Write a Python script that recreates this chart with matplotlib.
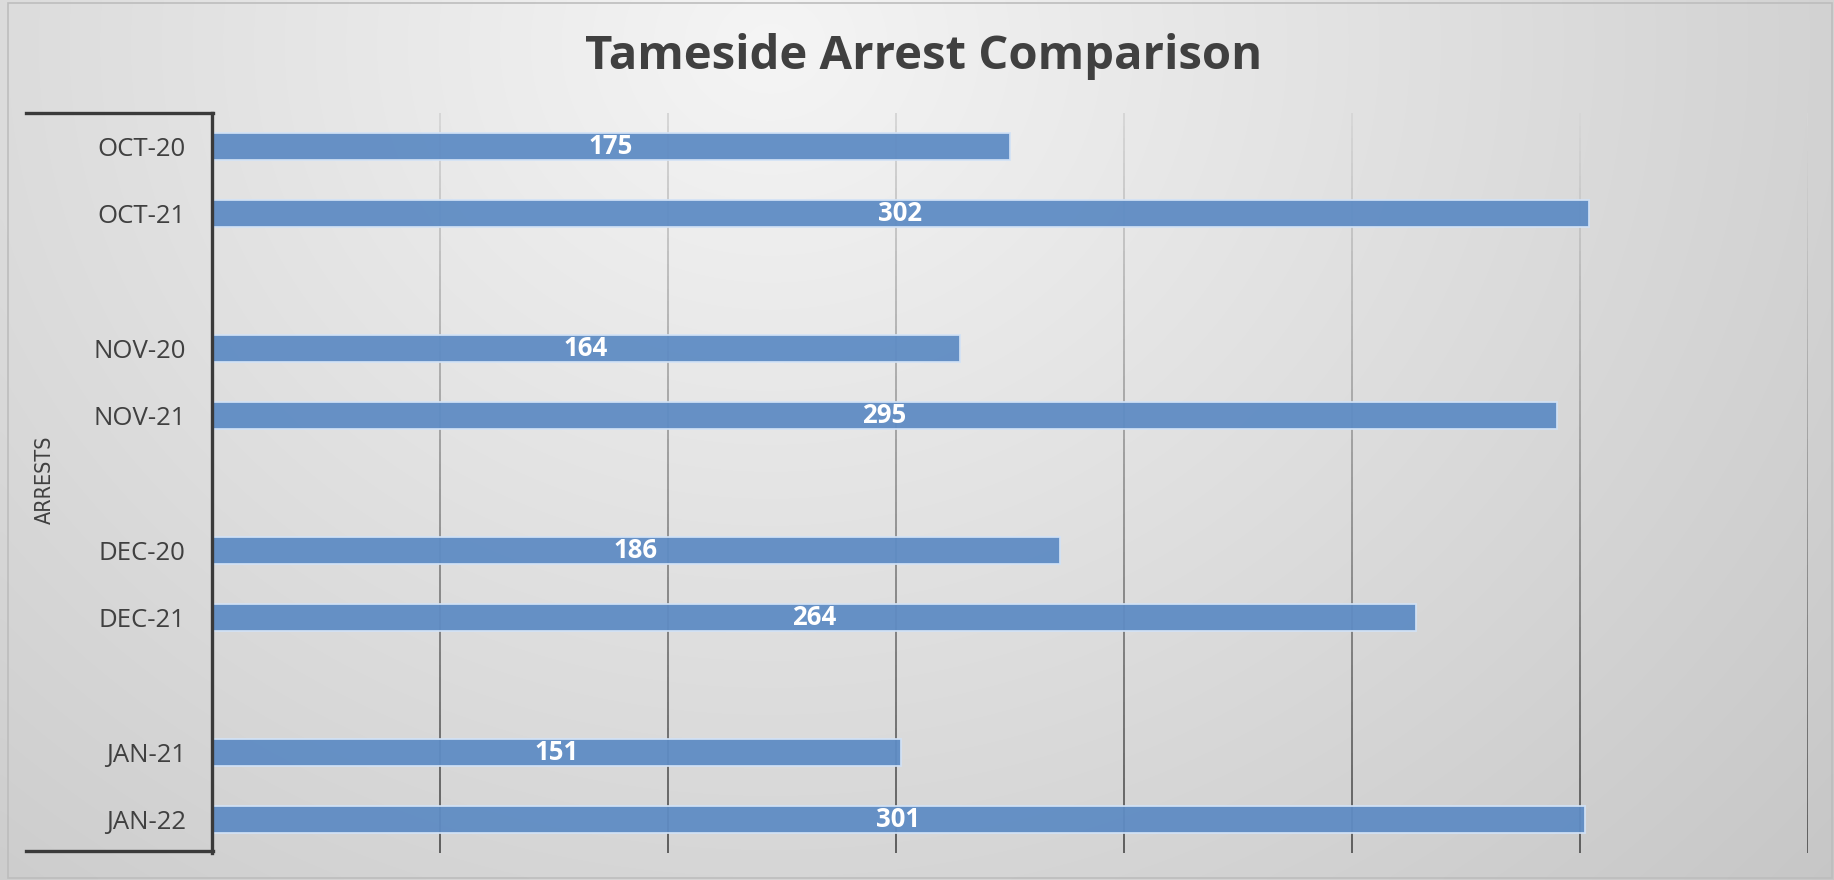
import numpy as np
import matplotlib
matplotlib.use("Agg")
import matplotlib.pyplot as plt
from matplotlib.collections import LineCollection
from matplotlib.lines import Line2D

# ---- data ----
title = "Tameside Arrest Comparison"
axis_label = "ARRESTS"
labels = ["OCT-20", "OCT-21", "NOV-20", "NOV-21", "DEC-20", "DEC-21", "JAN-21", "JAN-22"]
values = [175, 302, 164, 295, 186, 264, 151, 301]
x_max = 350
grid_step = 50

W, H, DPI = 1834, 880, 100
fig = plt.figure(figsize=(W / DPI, H / DPI), dpi=DPI)

# ---- background gradient ----
bg = fig.add_axes([0, 0, 1, 1], zorder=-10)
gx, gy = np.meshgrid(np.linspace(0, 1, 400), np.linspace(0, 1, 200))
d = np.sqrt(((gx - 0.42) / 0.6) ** 2 + ((gy - 0.05) / 1.1) ** 2)
inten = np.clip(0.96 - 0.14 * d, 0, 1)
bg.imshow(np.dstack([inten, inten, inten]), extent=[0, 1, 0, 1], origin="upper",
          aspect="auto", interpolation="bicubic")
bg.set_xlim(0, 1); bg.set_ylim(0, 1)
bg.axis("off")
bg.add_patch(plt.Rectangle((8 / W, 2 / H), 1 - 10 / W, 1 - 5 / H, fill=False,
                           edgecolor="#bdbdbd", linewidth=1.2))

# ---- main axes ----
left, right, top, bottom = 212, 1808, 113, 853
ax = fig.add_axes([left / W, 1 - bottom / H, (right - left) / W, (bottom - top) / H])
ax.set_facecolor("none")

pos = [i + i // 2 for i in range(len(labels))]
ax.set_xlim(0, x_max)
ax.set_ylim(max(pos) + 0.5, -0.5)

# gridlines with vertical colour gradient
grid_x = np.arange(grid_step, x_max + 1, grid_step)
ys = np.linspace(-0.5, max(pos) + 0.5, 60)
segs, cols = [], []
for gxv in grid_x:
    for k in range(len(ys) - 1):
        segs.append([(gxv, ys[k]), (gxv, ys[k + 1])])
        t = k / (len(ys) - 2)
        c = 0.84 - 0.47 * t
        cols.append((c, c, c))
ax.add_collection(LineCollection(segs, colors=cols, linewidths=1.4, zorder=1))

bars = ax.barh(pos, values, height=0.40, color="#5f8cc4", edgecolor="#d2e2f6",
               linewidth=1.3, alpha=0.95, zorder=2)
for p, v in zip(pos, values):
    ax.text(v / 2, p, str(v), ha="center", va="center", color="white",
            fontsize=18.5, fontweight="bold", family="Open Sans", zorder=3)

ax.set_yticks(pos)
ax.set_yticklabels(labels, fontsize=18.5, color="#404040", family="Open Sans")
ax.tick_params(axis="y", length=0, pad=19)
ax.set_xticks([])
for s in ["top", "right", "bottom"]:
    ax.spines[s].set_visible(False)
ax.spines["left"].set_color("#3a3a3a")
ax.spines["left"].set_linewidth(2.4)

# bracket lines at top and bottom of category axis
for yy in (top, bottom - 2):
    fig.add_artist(Line2D([26 / W, (left + 1) / W], [1 - yy / H, 1 - yy / H],
                          color="#3a3a3a", linewidth=2.4))

fig.text(45 / W, 1 - 480 / H, axis_label, rotation=90, ha="center", va="center",
         fontsize=15.5, color="#404040", family="DejaVu Sans", fontstretch="condensed")

fig.text(924 / W, 1 - 57 / H, title, ha="center", va="center", fontsize=34,
         fontweight="bold", color="#404040", family="Open Sans")

fig.savefig("out.png", dpi=DPI)
